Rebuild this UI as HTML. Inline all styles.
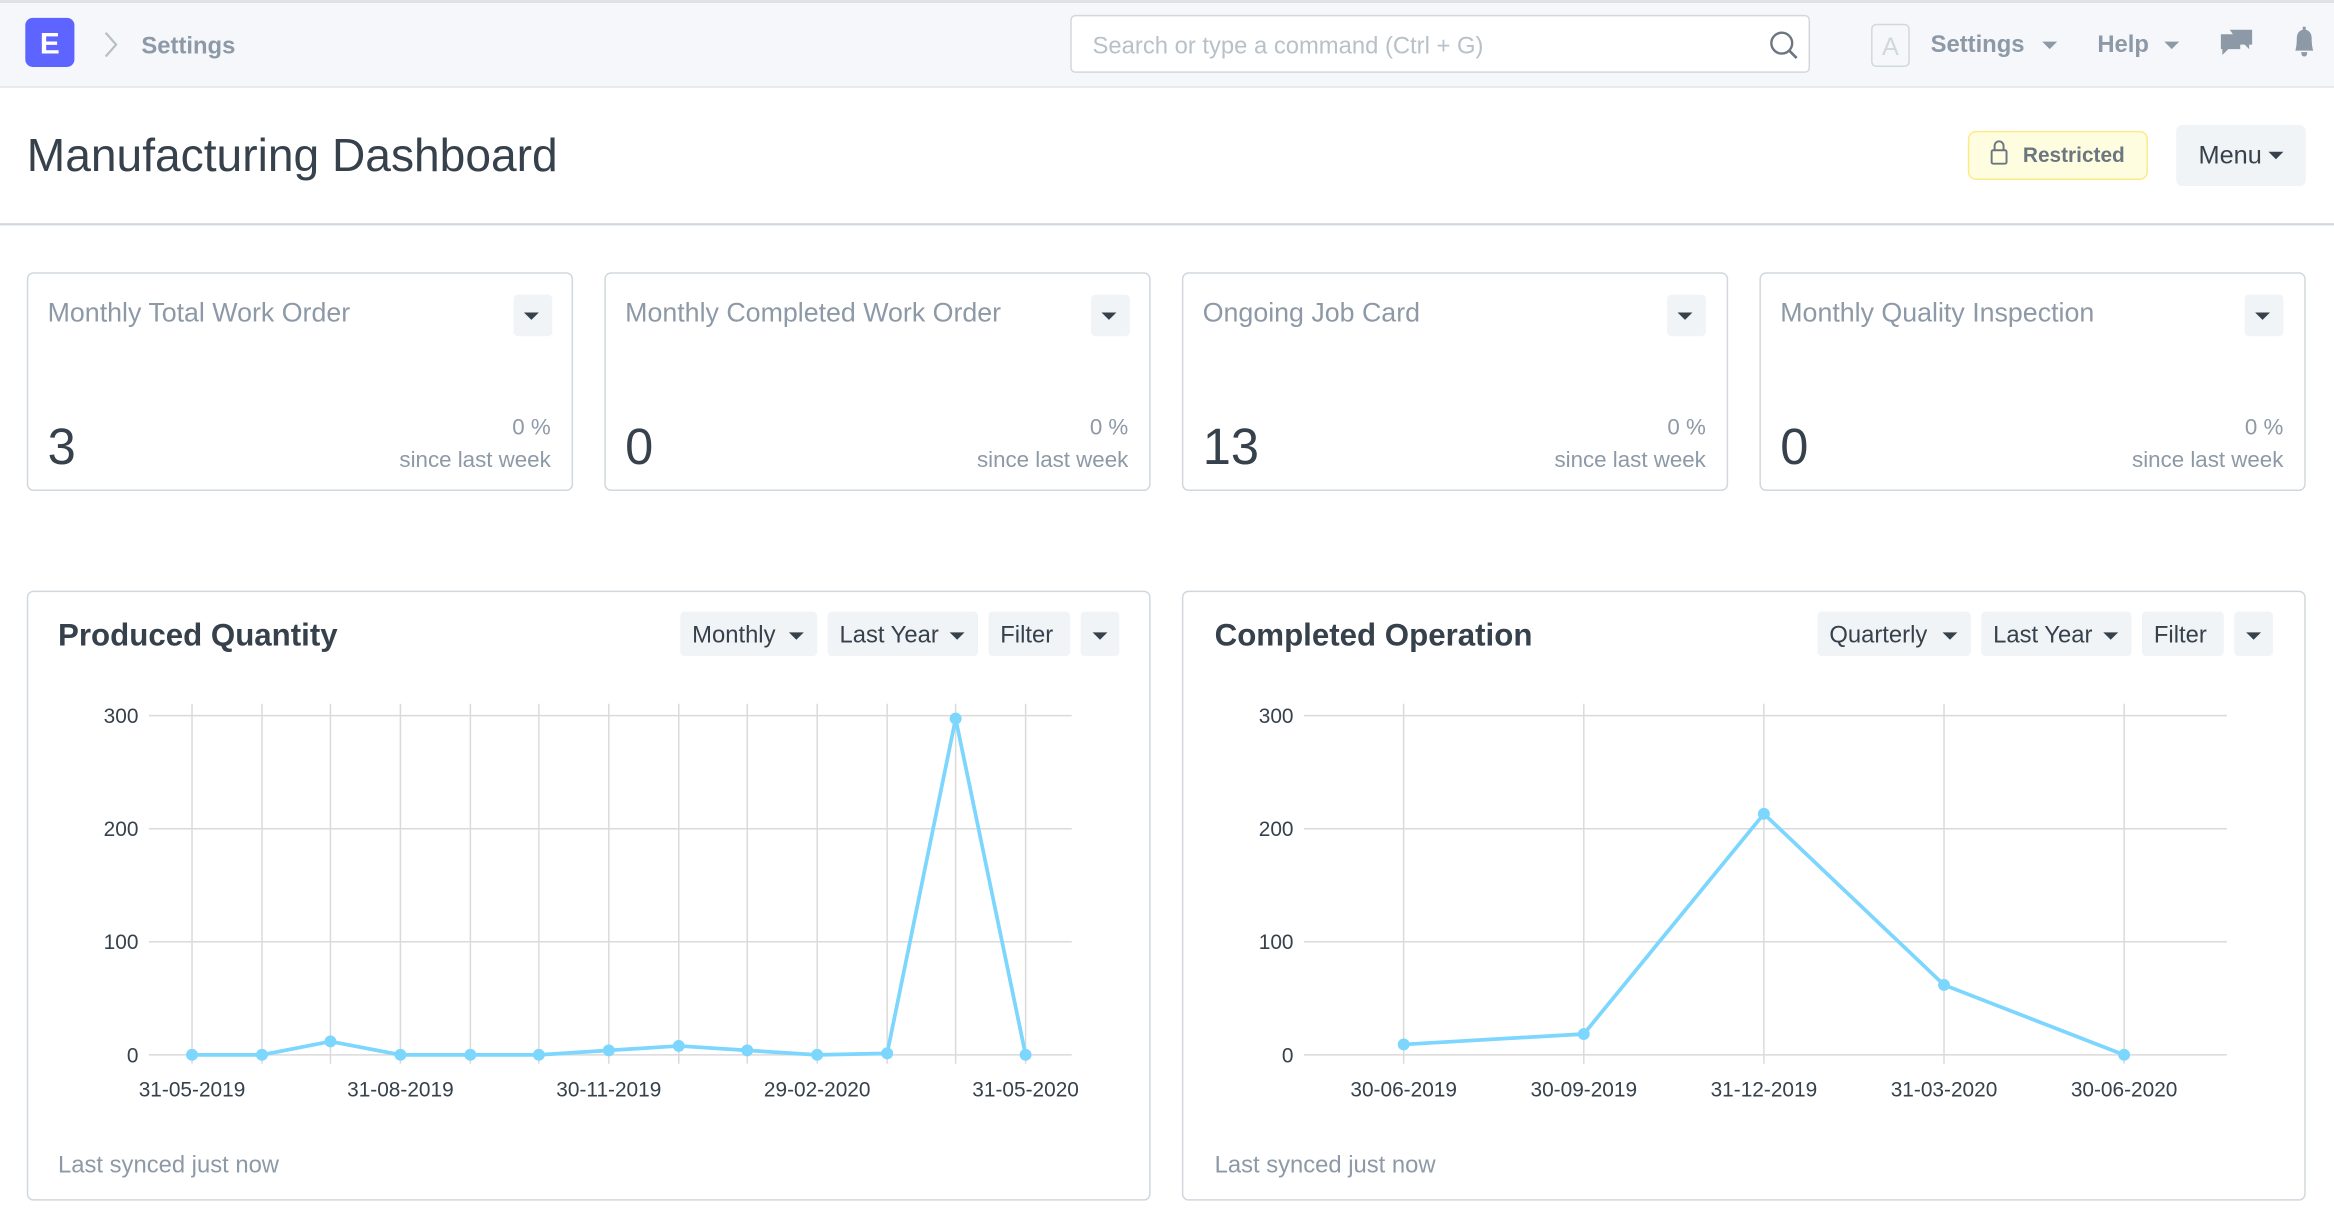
<!DOCTYPE html>
<html><head><meta charset="utf-8"><style>
html,body{margin:0;padding:0;background:#fff;overflow:hidden}
svg{display:block}
text{font-family:"Liberation Sans",sans-serif}
</style></head><body>
<svg width="2334" height="1220" viewBox="0 0 1568 820" preserveAspectRatio="none" xmlns="http://www.w3.org/2000/svg">
<!-- navbar -->
<rect x="0" y="0" width="1568" height="59" fill="#f5f7fa"/>
<rect x="0" y="0" width="1568" height="2" fill="#dfe2e6"/>
<rect x="0" y="58" width="1568" height="1" fill="#e2e6ea"/>
<rect x="17" y="12" width="33" height="33" rx="5" fill="#5e64ff"/>
<text x="33.5" y="36" font-size="20" font-weight="bold" fill="#fff" text-anchor="middle">E</text>
<path d="M71 22 L78 30 L71 38" stroke="#b8bfc7" stroke-width="1.5" fill="none"/>
<text x="95" y="36" font-size="16" font-weight="bold" fill="#8d99a6">Settings</text>
<rect x="719.5" y="10.5" width="496" height="38" rx="3" fill="#fff" stroke="#d1d8dd"/>
<text x="734" y="36" font-size="16" fill="#b8c0c8">Search or type a command (Ctrl + G)</text>
<circle cx="1197" cy="29" r="7" fill="none" stroke="#6c7680" stroke-width="1.6"/>
<path d="M1202 34 L1207 39" stroke="#6c7680" stroke-width="1.8"/>
<rect x="1257.5" y="16.5" width="25" height="28" rx="3" fill="none" stroke="#d1d8dd"/>
<text x="1270" y="37" font-size="17" fill="#d1d8dd" text-anchor="middle">A</text>
<text x="1297" y="35" font-size="16" font-weight="bold" fill="#8d99a6">Settings</text>
<path d="M1372 28 L1382 28 L1377 33Z" fill="#8d99a6"/>
<text x="1409" y="35" font-size="16" font-weight="bold" fill="#8d99a6">Help</text>
<path d="M1454 28 L1464 28 L1459 33Z" fill="#8d99a6"/>
<path d="M1492 23 h13 v10 h-8 l-4 4 v-4 h-1z M1498 20 h15 v10 h-2 v3 l-3 -3 h-3z" fill="#8d99a6"/>
<path d="M1542 34 q1-3 1-8 q0-5 4-6 v-2 h2 v2 q4 1 4 6 q0 5 1 8z M1546 35 h4 q0 3-2 3 q-2 0-2-3z" fill="#8d99a6"/>
<!-- title bar -->
<text x="18" y="115" font-size="31" fill="#36414c">Manufacturing Dashboard</text>
<rect x="1322.5" y="88.5" width="120" height="32" rx="5" fill="#fffde0" stroke="#fde98a"/>
<rect x="1338" y="101" width="10" height="9" rx="1" fill="none" stroke="#6c7680" stroke-width="1.3"/>
<path d="M1340 101 v-3 a3 3 0 0 1 6 0 v3" fill="none" stroke="#6c7680" stroke-width="1.3"/>
<text x="1359" y="109" font-size="14" font-weight="bold" fill="#6c7680">Restricted</text>
<rect x="1462" y="84" width="87" height="41" rx="4" fill="#f0f4f7"/>
<text x="1477" y="110" font-size="17" fill="#36414c">Menu</text>
<path d="M1524 102 L1534 102 L1529 107Z" fill="#36414c"/>
<rect x="0" y="150" width="1568" height="1.5" fill="#d1d8dd"/>
<!-- number cards -->
<g font-size="18">
<rect x="18.5" y="183.5" width="366" height="146" rx="4" fill="#fff" stroke="#d1d8dd"/>
<text x="32" y="216" fill="#8d99a6">Monthly Total Work Order</text>
<rect x="345" y="198" width="26" height="28" rx="3" fill="#f0f4f7"/><path d="M352 210 h10 l-5 5z" fill="#36414c"/>
<text x="32" y="312" font-size="34" fill="#36414c">3</text>
<text x="370" y="292" font-size="15" fill="#8d99a6" text-anchor="end">0 %</text>
<text x="370" y="314" font-size="15" fill="#8d99a6" text-anchor="end">since last week</text>

<rect x="406.5" y="183.5" width="366" height="146" rx="4" fill="#fff" stroke="#d1d8dd"/>
<text x="420" y="216" fill="#8d99a6">Monthly Completed Work Order</text>
<rect x="733" y="198" width="26" height="28" rx="3" fill="#f0f4f7"/><path d="M740 210 h10 l-5 5z" fill="#36414c"/>
<text x="420" y="312" font-size="34" fill="#36414c">0</text>
<text x="758" y="292" font-size="15" fill="#8d99a6" text-anchor="end">0 %</text>
<text x="758" y="314" font-size="15" fill="#8d99a6" text-anchor="end">since last week</text>

<rect x="794.5" y="183.5" width="366" height="146" rx="4" fill="#fff" stroke="#d1d8dd"/>
<text x="808" y="216" fill="#8d99a6">Ongoing Job Card</text>
<rect x="1120" y="198" width="26" height="28" rx="3" fill="#f0f4f7"/><path d="M1127 210 h10 l-5 5z" fill="#36414c"/>
<text x="808" y="312" font-size="34" fill="#36414c">13</text>
<text x="1146" y="292" font-size="15" fill="#8d99a6" text-anchor="end">0 %</text>
<text x="1146" y="314" font-size="15" fill="#8d99a6" text-anchor="end">since last week</text>

<rect x="1182.5" y="183.5" width="366" height="146" rx="4" fill="#fff" stroke="#d1d8dd"/>
<text x="1196" y="216" fill="#8d99a6">Monthly Quality Inspection</text>
<rect x="1508" y="198" width="26" height="28" rx="3" fill="#f0f4f7"/><path d="M1515 210 h10 l-5 5z" fill="#36414c"/>
<text x="1196" y="312" font-size="34" fill="#36414c">0</text>
<text x="1534" y="292" font-size="15" fill="#8d99a6" text-anchor="end">0 %</text>
<text x="1534" y="314" font-size="15" fill="#8d99a6" text-anchor="end">since last week</text>
</g>
<!-- chart cards -->
<rect x="18.5" y="397.5" width="754" height="409" rx="4" fill="#fff" stroke="#d1d8dd"/>
<rect x="794.5" y="397.5" width="754" height="409" rx="4" fill="#fff" stroke="#d1d8dd"/>
<g font-size="16" fill="#36414c">
<text x="39" y="434" font-size="21" font-weight="bold" fill="#36414c">Produced Quantity</text>
<rect x="457" y="411" width="92" height="30" rx="3" fill="#f0f4f7"/><text x="465" y="432">Monthly</text><path d="M530 425 h10 l-5 5z"/>
<rect x="556" y="411" width="101" height="30" rx="3" fill="#f0f4f7"/><text x="564" y="432">Last Year</text><path d="M638 425 h10 l-5 5z"/>
<rect x="664" y="411" width="55" height="30" rx="3" fill="#f0f4f7"/><text x="672" y="432">Filter</text>
<rect x="726" y="411" width="26" height="30" rx="3" fill="#f0f4f7"/><path d="M734 425 h10 l-5 5z"/>
<text x="816" y="434" font-size="21" font-weight="bold">Completed Operation</text>
<rect x="1221" y="411" width="103" height="30" rx="3" fill="#f0f4f7"/><text x="1229" y="432">Quarterly</text><path d="M1305 425 h10 l-5 5z"/>
<rect x="1331" y="411" width="101" height="30" rx="3" fill="#f0f4f7"/><text x="1339" y="432">Last Year</text><path d="M1413 425 h10 l-5 5z"/>
<rect x="1439" y="411" width="55" height="30" rx="3" fill="#f0f4f7"/><text x="1447" y="432">Filter</text>
<rect x="1501" y="411" width="26" height="30" rx="3" fill="#f0f4f7"/><path d="M1509 425 h10 l-5 5z"/>
</g>
<text x="39" y="788" font-size="16" fill="#8d99a6">Last synced just now</text>
<text x="816" y="788" font-size="16" fill="#8d99a6">Last synced just now</text>
<!-- chart 1 -->
<g stroke="#dadada" stroke-width="1">
<line x1="100" y1="481" x2="720" y2="481"/><line x1="100" y1="557" x2="720" y2="557"/><line x1="100" y1="633" x2="720" y2="633"/><line x1="100" y1="709" x2="720" y2="709"/>
<line x1="129" y1="473" x2="129" y2="715"/><line x1="176" y1="473" x2="176" y2="715"/><line x1="222" y1="473" x2="222" y2="715"/><line x1="269" y1="473" x2="269" y2="715"/><line x1="316" y1="473" x2="316" y2="715"/><line x1="362" y1="473" x2="362" y2="715"/><line x1="409" y1="473" x2="409" y2="715"/><line x1="456" y1="473" x2="456" y2="715"/><line x1="502" y1="473" x2="502" y2="715"/><line x1="549" y1="473" x2="549" y2="715"/><line x1="596" y1="473" x2="596" y2="715"/><line x1="642" y1="473" x2="642" y2="715"/><line x1="689" y1="473" x2="689" y2="715"/>
</g>
<g font-size="14" fill="#36414c" text-anchor="end">
<text x="93" y="486">300</text><text x="93" y="562">200</text><text x="93" y="638">100</text><text x="93" y="714">0</text>
</g>
<g font-size="14" fill="#36414c" text-anchor="middle">
<text x="129" y="737">31-05-2019</text><text x="269" y="737">31-08-2019</text><text x="409" y="737">30-11-2019</text><text x="549" y="737">29-02-2020</text><text x="689" y="737">31-05-2020</text>
</g>
<polyline fill="none" stroke="#7cd6fd" stroke-width="2.5" points="129,709 176,709 222,700 269,709 316,709 362,709 409,706 456,703 502,706 549,709 596,708 642,483 689,709"/>
<g fill="#7cd6fd">
<circle cx="129" cy="709" r="4"/><circle cx="176" cy="709" r="4"/><circle cx="222" cy="700" r="4"/><circle cx="269" cy="709" r="4"/><circle cx="316" cy="709" r="4"/><circle cx="362" cy="709" r="4"/><circle cx="409" cy="706" r="4"/><circle cx="456" cy="703" r="4"/><circle cx="502" cy="706" r="4"/><circle cx="549" cy="709" r="4"/><circle cx="596" cy="708" r="4"/><circle cx="642" cy="483" r="4"/><circle cx="689" cy="709" r="4"/>
</g>
<!-- chart 2 -->
<g stroke="#dadada" stroke-width="1">
<line x1="876" y1="481" x2="1496" y2="481"/><line x1="876" y1="557" x2="1496" y2="557"/><line x1="876" y1="633" x2="1496" y2="633"/><line x1="876" y1="709" x2="1496" y2="709"/>
<line x1="943" y1="473" x2="943" y2="715"/><line x1="1064" y1="473" x2="1064" y2="715"/><line x1="1185" y1="473" x2="1185" y2="715"/><line x1="1306" y1="473" x2="1306" y2="715"/><line x1="1427" y1="473" x2="1427" y2="715"/>
</g>
<g font-size="14" fill="#36414c" text-anchor="end">
<text x="869" y="486">300</text><text x="869" y="562">200</text><text x="869" y="638">100</text><text x="869" y="714">0</text>
</g>
<g font-size="14" fill="#36414c" text-anchor="middle">
<text x="943" y="737">30-06-2019</text><text x="1064" y="737">30-09-2019</text><text x="1185" y="737">31-12-2019</text><text x="1306" y="737">31-03-2020</text><text x="1427" y="737">30-06-2020</text>
</g>
<polyline fill="none" stroke="#7cd6fd" stroke-width="2.5" points="943,702 1064,695 1185,547 1306,662 1427,709"/>
<g fill="#7cd6fd">
<circle cx="943" cy="702" r="4"/><circle cx="1064" cy="695" r="4"/><circle cx="1185" cy="547" r="4"/><circle cx="1306" cy="662" r="4"/><circle cx="1427" cy="709" r="4"/>
</g>
</svg>
</body></html>
